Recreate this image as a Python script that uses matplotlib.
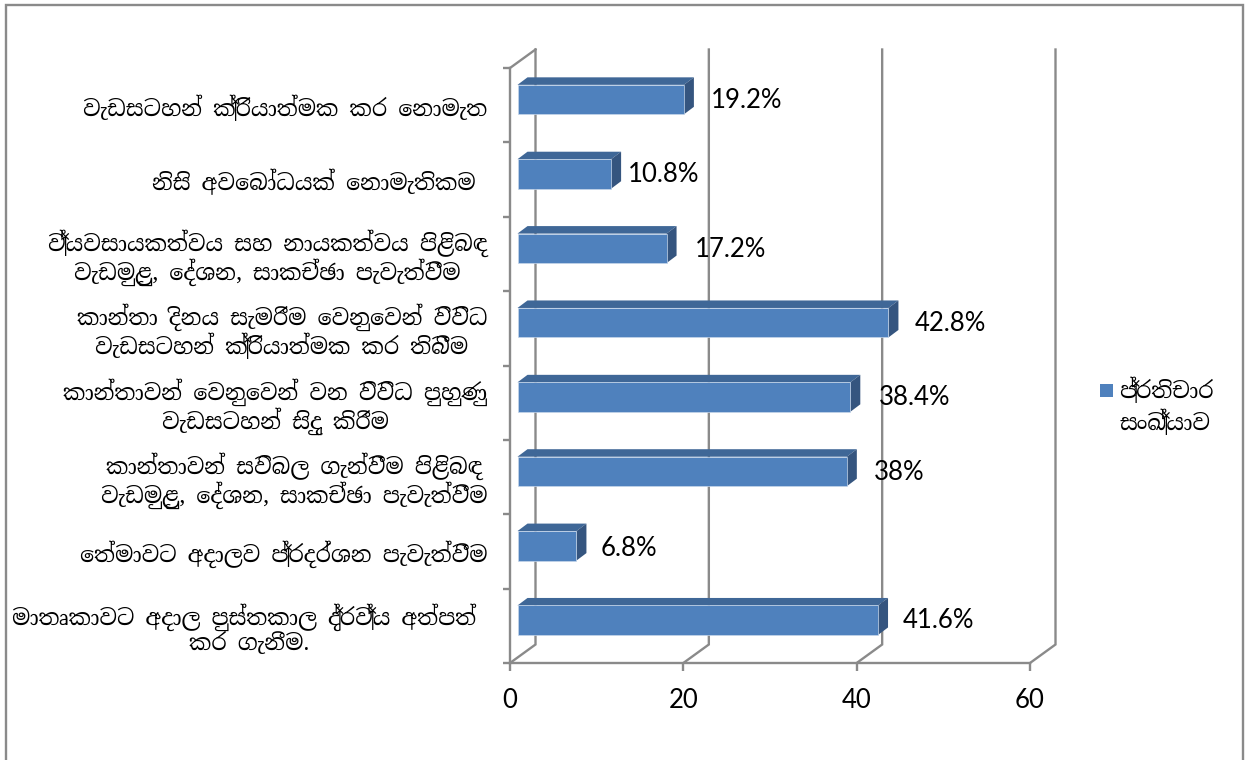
import matplotlib
matplotlib.use('Agg')
import matplotlib.pyplot as plt
from matplotlib.patches import Polygon, Rectangle

# bottom to top, same order as the source sheet (trailing spaces are in the original labels)
categories = [
    'මාතෘකාවට අදාල පුස්තකාල ද්‍රව්‍ය අත්පත් \nකර ගැනීම.',
    'තේමාවට අදාලව ප්‍රදර්ශන පැවැත්වීම',
    'කාන්තාවන් සවිබල ගැන්වීම පිළිබඳ\nවැඩමුළු, දේශන, සාකච්ඡා පැවැත්වීම',
    'කාන්තාවන් වෙනුවෙන් වන විවිධ පුහුණු\nවැඩසටහන් සිදු කිරීම',
    'කාන්තා දිනය සැමරීම වෙනුවෙන් විවිධ\nවැඩසටහන් ක්‍රියාත්මක කර තිබීම',
    'ව්‍යවසායකත්වය සහ නායකත්වය පිළිබඳ\nවැඩමුළු, දේශන, සාකච්ඡා පැවැත්වීම',
    'නිසි අවබෝධයක් නොමැතිකම ',
    'වැඩසටහන් ක්‍රියාත්මක කර නොමැත',
]
values = [41.6, 6.8, 38, 38.4, 42.8, 17.2, 10.8, 19.2]
value_labels = ['41.6%', '6.8%', '38%', '38.4%', '42.8%', '17.2%', '10.8%', '19.2%']
series_lines = ['ප්‍රතිචාර', 'සංඛ්‍යාව']
x_ticks = [0, 20, 40, 60]

# label placement, px right of the bar end / px above the category centre
label_gap = [25, 24, 27, 29, 26, 28, 17, 27]
label_rise = [5, 3, 5, 5, 5, 4, 5, 5]

SINHALA = ['Noto Serif Sinhala', 'DejaVu Sans']
NUMBERS = ['Lato', 'DejaVu Sans']
GRAY = '#8a8a8a'
FRONT = '#4f81bd'
TOP = '#3f6797'
SIDE = '#35557f'
LINE_W = 1.7


def visual_order(text):
    # matplotlib has no text shaping, so the vowel signs written before the
    # consonant have to be put in drawing order or they land after it
    split = {'ෙ': '', 'ේ': '්', 'ො': 'ා', 'ෝ': 'ා්'}
    out = []
    for ch in text:
        if ch in split:
            # walk back over the consonant cluster (consonant + hal + zwj + consonant)
            i = len(out) - 1
            while i >= 2 and out[i - 1] == '\u200d':
                i -= 2
            out.insert(i, 'ෙ')
            out.extend(split[ch])
        else:
            out.append(ch)
    return ''.join(out)


fig = plt.figure(figsize=(12.46, 7.6), dpi=100)

# outer chart border, the bottom edge is cut off in the original
fig.add_artist(Rectangle((5.5 / 1246, -0.02), 1237.5 / 1246, 0.02 + 755.5 / 760, transform=fig.transFigure,
                         fill=False, edgecolor=GRAY, linewidth=LINE_W))

ax = fig.add_axes([510 / 1246, (760 - 663) / 760, 520 / 1246, 595 / 760])
ax.set_xlim(0, 60)
ax.set_ylim(-0.5, 7.5)
ax.patch.set_alpha(0)

# size of one pixel in data units
px_x = 60 / 520
px_y = 8 / 595

# back wall of the 3d box
wall_x = 25.5 * px_x
wall_y = 18.5 * px_y
for t in x_ticks:
    ax.plot([t, t + wall_x, t + wall_x], [-0.5, -0.5 + wall_y, 7.5 + wall_y], color=GRAY, lw=LINE_W,
            clip_on=False, zorder=1, solid_joinstyle='miter')
ax.plot([0, wall_x], [7.5, 7.5 + wall_y], color=GRAY, lw=LINE_W, clip_on=False, zorder=1)

# bars
bar_h = 29.5 * px_y
bar_x0 = 7.5 * px_x
bar_shift = 5.6 * px_y
depth_x = 10 * px_x
depth_y = 7.5 * px_y
ys = list(range(len(values)))
for y, v in zip(ys, values):
    x1 = bar_x0 + v
    y0 = y + bar_shift - bar_h / 2
    y1 = y + bar_shift + bar_h / 2
    ax.add_patch(Polygon([(bar_x0, y1), (x1, y1), (x1 + depth_x, y1 + depth_y), (bar_x0 + depth_x, y1 + depth_y)],
                         facecolor=TOP, edgecolor='none', zorder=3))
    ax.add_patch(Polygon([(x1, y0), (x1 + depth_x, y0 + depth_y), (x1 + depth_x, y1 + depth_y), (x1, y1)],
                         facecolor=SIDE, edgecolor='none', zorder=3))
ax.barh([y + bar_shift for y in ys], values, height=bar_h, left=bar_x0, color=FRONT,
        edgecolor='#c6d6ea', linewidth=0.5, zorder=4)

for y, v, lab, gap, rise in zip(ys, values, value_labels, label_gap, label_rise):
    ax.text(bar_x0 + v + gap * px_x, y + rise * px_y, lab, family=NUMBERS, fontsize=18.5,
            va='center', ha='left', zorder=5)

# axes
for side in ['top', 'right']:
    ax.spines[side].set_visible(False)
for side in ['left', 'bottom']:
    ax.spines[side].set_color(GRAY)
    ax.spines[side].set_linewidth(LINE_W)

ax.set_xticks(x_ticks)
ax.set_xticklabels([str(t) for t in x_ticks], family=NUMBERS, fontsize=18.5)
ax.tick_params(axis='x', length=6, width=LINE_W, color=GRAY, pad=12)

ax.set_yticks([y - 0.5 for y in range(len(values) + 1)])
ax.set_yticklabels([])
ax.tick_params(axis='y', which='major', length=5, width=LINE_W, color=GRAY)
ax.set_yticks(ys, minor=True)
ax.set_yticklabels([visual_order(c) for c in categories], minor=True, family=SINHALA, fontsize=16,
                   multialignment='center', linespacing=1.08)
ax.tick_params(axis='y', which='minor', length=0, pad=16.5)

# legend
fig.add_artist(Rectangle((1100 / 1246, (760 - 397) / 760), 13 / 1246, 13 / 760, transform=fig.transFigure,
                         facecolor=FRONT, edgecolor='none'))
fig.text(1119 / 1246, (760 - 390) / 760, visual_order(series_lines[0]), family=SINHALA, fontsize=16, va='center')
fig.text(1119 / 1246, (760 - 422) / 760, visual_order(series_lines[1]), family=SINHALA, fontsize=16, va='center')

plt.savefig('out.png')
